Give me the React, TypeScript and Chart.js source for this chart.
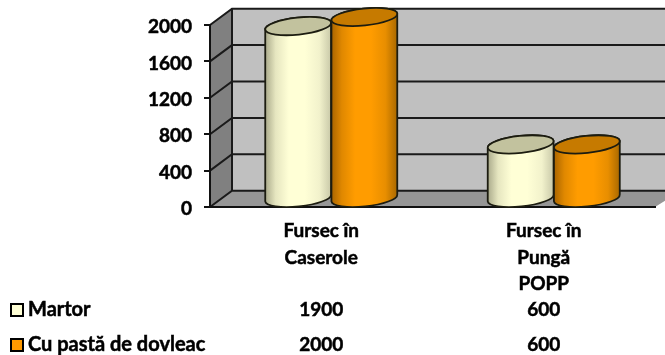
import { useEffect, useRef } from "react";
import { Chart, registerables } from "chart.js";

Chart.register(...registerables);

const categories = [["Fursec în", "Caserole"], ["Fursec în", "Pungă", "POPP"]];
const martorValues = [1900, 600];
const dovleacValues = [2000, 600];
const seriesNames = ["Martor", "Cu pastă de dovleac"];

const FONT = "Lato, sans-serif";
const FONT_SIZE = 19;
const NAME_FONT_SIZE = 20;
const TEXT_STROKE = 0.5;
const DEPTH_X = 22;
const DEPTH_Y = 16.3;
const CYL_DX = 10;
const CYL_DY = 8;
const CYL_RY = 8.5;
const CYL_TILT = (-6 * Math.PI) / 180;

const cylinderShades = [
  { stops: ["#a9a98a", "#e6e6c0", "#ffffd6", "#ffffd6", "#f2f2cc", "#c8c8a8"], top: "#c2c29e", key: "#ffffd6" },
  { stops: ["#a86400", "#e08800", "#ff9c00", "#ff9c00", "#e88e00", "#a86800"], top: "#c67a00", key: "#ff9900" },
];

// Walls, floor and the gridlines that fold from the side wall onto the back wall.
const roomPlugin = {
  id: "room",
  beforeDraw(chart: any) {
    const { ctx, scales } = chart;
    const y = scales.y;
    const x = scales.x;
    const left = x.left;
    const right = x.right;
    const bottom = y.getPixelForValue(0);
    const top = y.getPixelForValue(2000);
    const backX = left + DEPTH_X;
    // Value labels sit slightly below their tick marks.
    y.getLabelItems().forEach((item: any) => { item.textOffset = 2; });
    ctx.save();
    ctx.fillStyle = "#c0c0c0";
    ctx.fillRect(backX, top - DEPTH_Y, chart.width - backX, bottom - top);
    ctx.fillStyle = "#808080";
    ctx.beginPath();
    ctx.moveTo(left, top);
    ctx.lineTo(backX, top - DEPTH_Y);
    ctx.lineTo(backX, bottom - DEPTH_Y);
    ctx.lineTo(left, bottom);
    ctx.closePath();
    ctx.fill();
    ctx.fillStyle = "#969696";
    ctx.beginPath();
    ctx.moveTo(left, bottom);
    ctx.lineTo(backX, bottom - DEPTH_Y);
    ctx.lineTo(chart.width, bottom - DEPTH_Y);
    ctx.lineTo(chart.width, bottom - DEPTH_Y + 10);
    ctx.lineTo(right, bottom);
    ctx.closePath();
    ctx.fill();
    ctx.strokeStyle = "#1a1a1a";
    ctx.lineWidth = 2;
    y.ticks.forEach((t: any) => {
      const py = y.getPixelForValue(t.value);
      ctx.beginPath();
      ctx.moveTo(left, py);
      ctx.lineTo(backX, py - DEPTH_Y);
      ctx.lineTo(chart.width, py - DEPTH_Y);
      ctx.stroke();
    });
    ctx.beginPath();
    ctx.moveTo(backX, top - DEPTH_Y);
    ctx.lineTo(backX, bottom - DEPTH_Y);
    ctx.stroke();
    ctx.restore();
  },
};

// Each bar element is painted as a tilted cylinder standing on the floor.
const cylinderPlugin = {
  id: "cylinders",
  afterDatasetsDraw(chart: any) {
    const { ctx } = chart;
    chart.data.datasets.forEach((_: any, di: number) => {
      const shade = cylinderShades[di];
      chart.getDatasetMeta(di).data.forEach((bar: any) => {
        const { x, y, base, width } = bar.getProps(["x", "y", "base", "width"], true);
        const cx = x + CYL_DX;
        const rx = width / 2;
        const topY = y - CYL_DY;
        const botY = base - CYL_DY;
        const grad = ctx.createLinearGradient(cx - rx, 0, cx + rx, 0);
        const offsets = [0, 0.16, 0.36, 0.6, 0.82, 1];
        offsets.forEach((o, i) => grad.addColorStop(o, shade.stops[i]));
        ctx.save();
        ctx.lineWidth = 1.8;
        ctx.strokeStyle = "#1c1c10";
        ctx.beginPath();
        ctx.ellipse(cx, botY, rx, CYL_RY, CYL_TILT, 0, Math.PI);
        ctx.ellipse(cx, topY, rx, CYL_RY, CYL_TILT, Math.PI, 2 * Math.PI);
        ctx.closePath();
        ctx.fillStyle = grad;
        ctx.fill();
        ctx.stroke();
        ctx.beginPath();
        ctx.ellipse(cx, topY, rx, CYL_RY, CYL_TILT, 0, 2 * Math.PI);
        ctx.fillStyle = shade.top;
        ctx.fill();
        ctx.stroke();
        ctx.restore();
      });
    });
  },
};

// Data table under the axis, with a colour key in front of every row.
const tablePlugin = {
  id: "dataTable",
  afterDraw(chart: any) {
    const { ctx, scales } = chart;
    const rowY = [310, 345];
    ctx.save();
    ctx.textBaseline = "middle";
    chart.data.datasets.forEach((ds: any, di: number) => {
      const ry = rowY[di];
      ctx.fillStyle = cylinderShades[di].key;
      ctx.strokeStyle = "#000";
      ctx.lineWidth = 2;
      ctx.fillRect(11, ry - 6, 12, 12);
      ctx.strokeRect(11, ry - 6, 12, 12);
      ctx.fillStyle = "#000";
      ctx.lineWidth = TEXT_STROKE;
      ctx.textAlign = "left";
      ctx.font = `bold ${NAME_FONT_SIZE}px ${FONT}`;
      ctx.fillText(ds.label, 28, ry);
      ctx.strokeText(ds.label, 28, ry);
      ctx.textAlign = "center";
      ctx.font = `bold ${FONT_SIZE}px ${FONT}`;
      ds.data.forEach((v: number, i: number) => {
        const px = scales.x.getPixelForValue(i);
        ctx.fillText(String(v), px, ry);
        ctx.strokeText(String(v), px, ry);
      });
    });
    ctx.restore();
  },
};

export default function App() {
  const ref = useRef<HTMLCanvasElement>(null);

  useEffect(() => {
    const chart = new Chart(ref.current as HTMLCanvasElement, {
      type: "bar",
      data: {
        labels: categories as any,
        datasets: [
          { label: seriesNames[0], data: martorValues, backgroundColor: "transparent" },
          { label: seriesNames[1], data: dovleacValues, backgroundColor: "transparent" },
        ],
      },
      options: {
        responsive: false,
        animation: false,
        layout: { padding: { left: 0, right: 10, top: 25, bottom: 0 } },
        datasets: { bar: { categoryPercentage: 0.595, barPercentage: 1 } },
        plugins: { legend: { display: false }, tooltip: { enabled: false }, title: { display: false } },
        scales: {
          x: {
            afterFit: (s: any) => { s.height = 148; },
            grid: { display: false },
            border: { display: true, color: "#111", width: 2 },
            ticks: {
              maxRotation: 0,
              autoSkip: false,
              color: "#000",
              padding: 3,
              textStrokeColor: "#000",
              textStrokeWidth: TEXT_STROKE,
              font: { family: FONT, weight: "bold", size: FONT_SIZE, lineHeight: 1.39 },
            },
          },
          y: {
            min: 0,
            max: 2000,
            afterFit: (s: any) => { s.width = 210; },
            grid: { drawOnChartArea: false, drawTicks: true, tickLength: 6, color: "#111", lineWidth: 2 },
            border: { display: true, color: "#111", width: 2 },
            ticks: {
              stepSize: 400,
              color: "#000",
              padding: 12,
              textStrokeColor: "#000",
              textStrokeWidth: TEXT_STROKE,
              callback: (v: any) => String(v),
              font: { family: FONT, weight: "bold", size: FONT_SIZE },
            },
          },
        },
      },
      plugins: [roomPlugin, cylinderPlugin, tablePlugin],
    });
    return () => chart.destroy();
  }, []);

  return (
    <canvas
      ref={ref}
      width={665}
      height={355}
      style={{ position: "absolute", left: 0, top: 0, display: "block", width: 665, height: 355 }}
    />
  );
}
